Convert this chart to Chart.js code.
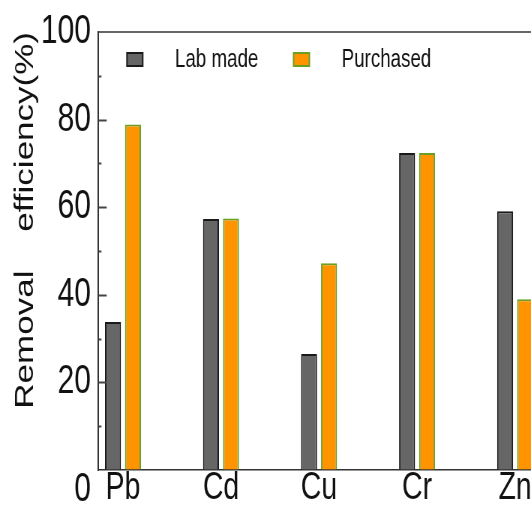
<!DOCTYPE html>
<html>
<head>
<meta charset="utf-8">
<script src="https://cdn.jsdelivr.net/npm/chart.js@4.4.0/dist/chart.umd.min.js"></script>
<style>
  html, body { margin: 0; padding: 0; background: #fff; overflow: hidden; }
  #wrap { width: 531px; height: 512px; overflow: hidden; position: relative; }
  /* the reference is squeezed sideways, so draw wide and squeeze */
  #c { position: absolute; left: 0; top: 0; transform: scaleX(0.75); transform-origin: 0 0; }
</style>
</head>
<body>
<div id="wrap"><canvas id="c" width="800" height="512"></canvas></div>
<script>
const metals = ['Pb', 'Cd', 'Cu', 'Cr', 'Zn'];
const labMade = [33.8, 57.3, 26.5, 72.4, 59.1];
const purchased = [78.9, 57.4, 47.2, 72.4, 39.0];
const yTicks = [0, 20, 40, 60, 80, 100];
const minorTicks = [10, 20, 30, 40, 50, 60, 70, 80, 90];

const FONT = '"Liberation Sans", Arial, sans-serif';
Chart.defaults.font.family = FONT;

let frame = {
    id: 'frame',
    afterDraw(chart) {
        let { ctx, chartArea: a, scales: { y } } = chart;
        ctx.save();
        // top frame line
        ctx.strokeStyle = '#333';
        ctx.lineWidth = 1.5;
        ctx.beginPath();
        ctx.moveTo(a.left, a.top);
        ctx.lineTo(a.right, a.top);
        ctx.stroke();

        // inward tick marks
        ctx.strokeStyle = '#444';
        ctx.lineWidth = 2;
        minorTicks.forEach(v => {
            let py = Math.round(y.getPixelForValue(v)) + 0.5;
            let len = v % 20 === 0 ? 11 : 4;
            ctx.beginPath();
            ctx.moveTo(a.left, py);
            ctx.lineTo(a.left + len, py);
            ctx.stroke();
        });

        // legend inside the plot
        ctx.font = '25px ' + FONT;
        ctx.textBaseline = 'middle';
        let x = a.left + 38;
        chart.data.datasets.forEach(ds => {
            ctx.fillStyle = ds.backgroundColor;
            ctx.fillRect(x, 53, 21, 13);
            ctx.strokeStyle = ds.borderColor;
            ctx.lineWidth = 2;
            ctx.strokeRect(x, 53, 21, 13);
            ctx.fillStyle = '#111';
            let tx = x + 64;
            ctx.fillText(ds.label, tx, 60);
            x = tx + ctx.measureText(ds.label).width + 47;
        });
        ctx.restore();
    }
};

let ctx = document.getElementById('c').getContext('2d');

const bars = new Chart(ctx, {
    type: 'bar',
    data: {
        datasets: [{
            label: 'Lab made',
            data: labMade.map((v, i) => ({ x: i + 1, y: v })),
            backgroundColor: '#666666',
            borderColor: '#1a1a1a',
            borderWidth: 2
        }, {
            label: 'Purchased',
            data: purchased.map((v, i) => ({ x: i + 1, y: v })),
            backgroundColor: '#ff9400',
            borderColor: '#6a9f24',
            borderWidth: 2
        }]
    },
    options: {
        responsive: false,
        animation: false,
        layout: { padding: { top: 32, left: 0, right: 0, bottom: 0 } },
        datasets: { bar: { categoryPercentage: 0.408, barPercentage: 0.8 } },
        plugins: {
            legend: { display: false },
            tooltip: { enabled: false }
        },
        scales: {
            x: {
                type: 'linear',
                offset: false,
                min: 0.75,
                max: 5.866,
                afterBuildTicks: s => { s.ticks = metals.map((m, i) => ({ value: i + 1 })); },
                afterFit: s => { s.height = 42; s.paddingLeft = 0; s.paddingRight = 0; },
                ticks: {
                    callback: v => metals[v - 1] || '',
                    font: { size: 38, lineHeight: '38px' },
                    color: '#111',
                    padding: 0,
                    maxRotation: 0,
                    autoSkip: false
                },
                grid: { display: true, drawOnChartArea: false, drawTicks: false },
                border: { display: true, color: '#333', width: 1.5 }
            },
            y: {
                min: 0,
                max: 100,
                afterBuildTicks: s => { s.ticks = yTicks.map(v => ({ value: v })); },
                afterFit: s => { s.width = 131.3; s.paddingTop = 0; s.paddingBottom = 0; },
                ticks: {
                    callback: v => v === 0 ? ['', '0'] : String(v),
                    font: { size: 40, lineHeight: '40px' },
                    color: '#111',
                    padding: 10
                },
                grid: { display: true, drawOnChartArea: false, drawTicks: false },
                border: { display: true, color: '#333', width: 2 },
                title: {
                    display: true,
                    text: 'Removal    efficiency(%)',
                    align: 'end',
                    color: '#111',
                    font: { size: 35 },
                    padding: { top: 13, bottom: 0 }
                }
            }
        }
    },
    plugins: [frame]
});
</script>
</body>
</html>
